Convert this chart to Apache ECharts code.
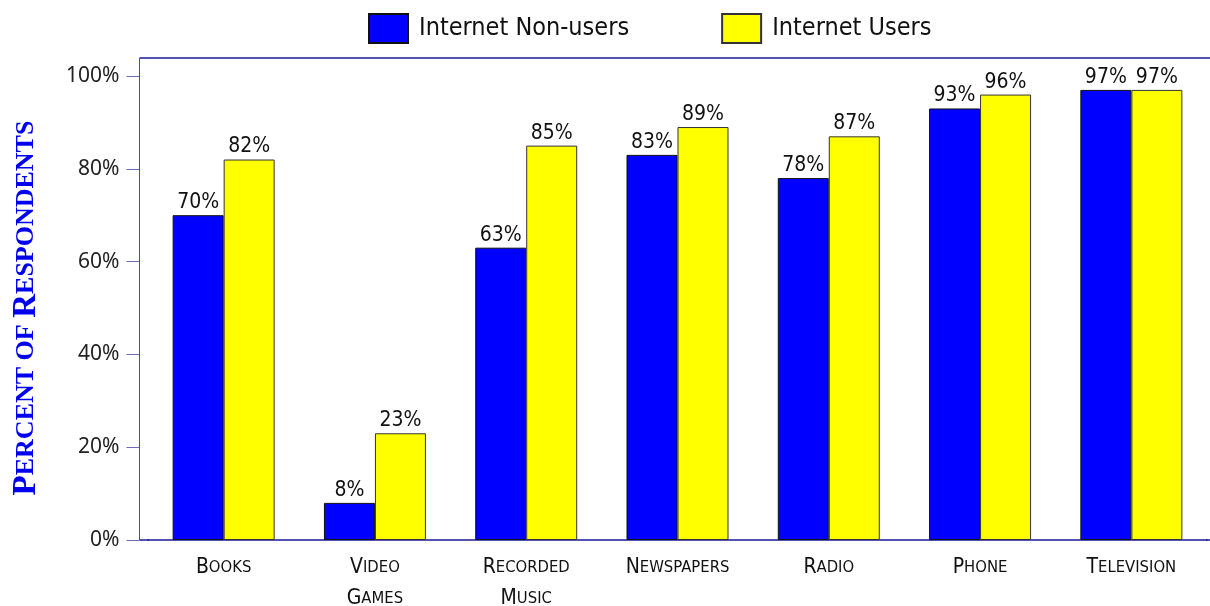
<!DOCTYPE html>
<html>
<head>
<meta charset="utf-8">
<script src="https://cdn.jsdelivr.net/npm/echarts@6/dist/echarts.min.js"></script>
<style>html,body{margin:0;padding:0;background:#fff}#chart{width:1210px;height:606px}</style>
</head>
<body>
<div id="chart"></div>
<script>
var categories = [['B','OOKS'], ['V','IDEO\n','G','AMES'], ['R','ECORDED\n','M','USIC'], ['N','EWSPAPERS'], ['R','ADIO'], ['P','HONE'], ['T','ELEVISION']];
var seriesNames = ['Internet Non-users', 'Internet Users'];
var nonUsers = [70, 8, 63, 83, 78, 93, 97];
var users = [82, 23, 85, 89, 87, 96, 97];
var yTicks = [0, 20, 40, 60, 80, 100];

var NARROW = "'Liberation Sans Narrow','Arial Narrow','DejaVu Sans Condensed',sans-serif";
var catLabels = categories.map(function(parts){
  var s = '';
  for (var i = 0; i < parts.length; i += 2) {
    var rest = parts[i+1];
    var nl = rest.indexOf('\n') >= 0;
    s += '{a|' + parts[i] + '}{b|' + rest.replace('\n','') + '}' + (nl ? '\n' : '');
  }
  return s;
});

var chart = echarts.init(document.getElementById('chart'));
chart.setOption({
  animation: false,
  backgroundColor: '#fff',
  legend: {
    left: 368, top: 13, padding: 0, icon: 'rect',
    itemWidth: 39, itemHeight: 29, itemGap: 92,
    textStyle: {fontFamily: NARROW, fontSize: 25, color: '#111', padding: [0,0,0,6]},
    data: seriesNames
  },
  grid: {left: 148, right: 3, top: 76, bottom: 66, outerBoundsMode: 'none', containLabel: false},
  xAxis: {
    type: 'category',
    data: catLabels,
    axisLine: {lineStyle: {color: '#1a1a9a', width: 1.5}},
    axisTick: {show: false},
    axisLabel: {
      margin: 12, interval: 0, lineHeight: 31,
      rich: {
        a: {fontFamily: NARROW, fontSize: 21, color: '#111', lineHeight: 31},
        b: {fontFamily: NARROW, fontSize: 16.5, color: '#111', lineHeight: 31}
      }
    }
  },
  yAxis: {
    type: 'value', min: 0, max: 100, interval: 20, offset: 8.5,
    splitLine: {show: false},
    axisLine: {show: false},
    axisTick: {show: true, length: 13, lineStyle: {color: '#6a6ac0'}},
    axisLabel: {
      margin: 20, fontFamily: "'Noto Sans',sans-serif", fontSize: 21, color: '#222',
      formatter: function(v){ return yTicks.indexOf(v) >= 0 ? v + '%' : ''; }
    },
    name: '{P|P}{s|ERCENT OF }{P|R}{s|ESPONDENTS}',
    nameLocation: 'middle', nameGap: 97, nameRotate: 90,
    nameTextStyle: {
      rich: {
        P: {fontFamily: "'Liberation Serif','Times New Roman',serif", fontWeight: 'bold', fontSize: 33, color: '#0000ee'},
        s: {fontFamily: "'Liberation Serif','Times New Roman',serif", fontWeight: 'bold', fontSize: 26, color: '#0000ee'}
      }
    }
  },
  series: [
    {
      name: seriesNames[0], type: 'bar', data: nonUsers, barWidth: 51, barGap: '0%',
      itemStyle: {color: '#0000ff', borderColor: '#111', borderWidth: 1},
      label: {show: true, position: 'top', distance: 2, formatter: '{c}%', fontFamily: NARROW, fontSize: 21, color: '#111'}
    },
    {
      name: seriesNames[1], type: 'bar', data: users, barWidth: 51, barGap: '0%',
      itemStyle: {color: '#ffff00', borderColor: '#333', borderWidth: 1},
      label: {show: true, position: 'top', distance: 2, formatter: '{c}%', fontFamily: NARROW, fontSize: 21, color: '#111'}
    }
  ],
  graphic: [
    {type: 'line', shape: {x1: 139.5, y1: 58, x2: 1210, y2: 58}, style: {stroke: '#1a1a9a', lineWidth: 1.5}, silent: true, z: 10},
    {type: 'line', shape: {x1: 139.5, y1: 540, x2: 149, y2: 540}, style: {stroke: '#1a1a9a', lineWidth: 1.5}, silent: true, z: 10},
    {type: 'line', shape: {x1: 1206, y1: 540, x2: 1210, y2: 540}, style: {stroke: '#1a1a9a', lineWidth: 1.5}, silent: true, z: 10},
    {type: 'line', shape: {x1: 139.5, y1: 58, x2: 139.5, y2: 540}, style: {stroke: '#4848b0', lineWidth: 1}, silent: true, z: 10}
  ]
});
</script>
</body>
</html>
